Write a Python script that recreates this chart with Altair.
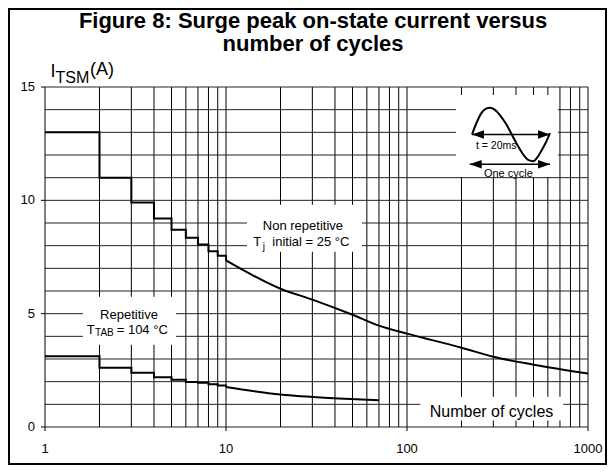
import altair as alt
import pandas as pd

FONT = "Liberation Sans"
W, H = 543, 340

# ---------------- data ----------------
grid_x = [1, 2, 3, 4, 5, 6, 7, 8, 9, 10, 20, 30, 40, 50, 60, 70, 80, 90,
          100, 200, 300, 400, 500, 600, 700, 800, 900, 1000]
grid_y = list(range(0, 16))
x_ticks = [1, 10, 100, 1000]
x_tick_labels = ["1", "10", "100", "1000"]
y_ticks = [0, 5, 10, 15]
y_tick_labels = ["0", "5", "10", "15"]

nr_step_x = [1, 2, 3, 4, 5, 6, 7, 8, 9, 10]
nr_step_y = [13.0, 11.0, 9.9, 9.2, 8.7, 8.35, 8.05, 7.75, 7.55, 7.35]
nr_curve_x = [10, 20, 30, 50, 70, 100, 200, 300, 500, 1000]
nr_curve_y = [7.35, 6.1, 5.62, 4.95, 4.47, 4.12, 3.5, 3.1, 2.75, 2.36]

rep_step_x = [1, 2, 3, 4, 5, 6, 7, 8, 9, 10]
rep_step_y = [3.12, 2.61, 2.39, 2.19, 2.09, 1.99, 1.95, 1.89, 1.83, 1.77]
rep_curve_x = [10, 20, 42, 70]
rep_curve_y = [1.77, 1.43, 1.26, 1.18]

# white boxes behind the labels (data units: x0, x1, y0, y1)
box_x0 = [13.06, 1.62, 118.6, 186.6]
box_x1 = [56.4, 5.30, 731.0, 682.0]
box_y0 = [7.73, 3.63, 0.29, 11.03]
box_y1 = [9.8, 5.75, 1.34, 14.65]

# inset "one cycle" icon (phase in cycles, amplitude)
icon_phase = [0, 0.06, 0.12, 0.18, 0.23, 0.29, 0.36, 0.44, 0.51, 0.58,
              0.65, 0.72, 0.786, 0.84, 0.9, 0.95, 1.0]
icon_amp = [0, 0.45, 0.8, 0.97, 1.0, 0.93, 0.72, 0.38, 0, -0.38,
            -0.72, -0.95, -1.0, -0.85, -0.55, -0.28, 0.05]

# ---------------- scales ----------------
xs = alt.Scale(type="log", domain=[1, 1000], nice=False)
ys = alt.Scale(domain=[0, 15], nice=False)

one = pd.DataFrame({"a": [0]})

border = alt.Chart(one).mark_rect(fillOpacity=0, stroke="black", strokeWidth=2).encode(
    x=alt.value(-36), x2=alt.value(561), y=alt.value(-78), y2=alt.value(377))

vgrid = alt.Chart(pd.DataFrame({"v": grid_x})).mark_rule(color="#000", strokeWidth=1).encode(
    x=alt.X("v:Q", scale=xs, axis=None), y=alt.value(0), y2=alt.value(H))
hgrid = alt.Chart(pd.DataFrame({"v": grid_y})).mark_rule(color="#222", strokeWidth=1).encode(
    y=alt.Y("v:Q", scale=ys, axis=None), x=alt.value(0), x2=alt.value(W))

# axis ticks and labels
xtick = alt.Chart(pd.DataFrame({"v": x_ticks})).mark_rule(color="black", strokeWidth=1).encode(
    x=alt.X("v:Q", scale=xs, axis=None), y=alt.value(H), y2=alt.value(H + 4))
xlab = alt.Chart(pd.DataFrame({"v": x_ticks, "t": x_tick_labels})).mark_text(
    font=FONT, fontSize=13, align="center", baseline="alphabetic", color="black").encode(
    x=alt.X("v:Q", scale=xs, axis=None), y=alt.value(H + 26), text="t:N")
ytick = alt.Chart(pd.DataFrame({"v": y_ticks})).mark_rule(color="black", strokeWidth=1).encode(
    y=alt.Y("v:Q", scale=ys, axis=None), x=alt.value(-4), x2=alt.value(0))
ylab = alt.Chart(pd.DataFrame({"v": y_ticks, "t": y_tick_labels})).mark_text(
    font=FONT, fontSize=13, align="right", baseline="middle", color="black").encode(
    y=alt.Y("v:Q", scale=ys, axis=None), x=alt.value(-10), text="t:N")

boxes = alt.Chart(pd.DataFrame({"x0": box_x0, "x1": box_x1, "y0": box_y0, "y1": box_y1})).mark_rect(
    fill="white").encode(
    x=alt.X("x0:Q", scale=xs, axis=None), x2="x1:Q",
    y=alt.Y("y0:Q", scale=ys, axis=None), y2="y1:Q")


def line(xv, yv, interp):
    return alt.Chart(pd.DataFrame({"x": xv, "y": yv})).mark_line(
        color="black", strokeWidth=2, interpolate=interp).encode(
        x=alt.X("x:Q", scale=xs, axis=None), y=alt.Y("y:Q", scale=ys, axis=None))


curves = [
    line(nr_step_x, nr_step_y, "step-after"),
    line(nr_curve_x, nr_curve_y, "monotone"),
    line(rep_step_x, rep_step_y, "step-after"),
    line(rep_curve_x, rep_curve_y, "monotone"),
]


def annot(text, xv, yv, size, align="left", dx=0, dy=0, weight="normal"):
    return alt.Chart(pd.DataFrame({"x": [xv], "y": [yv], "t": [text]})).mark_text(
        font=FONT, fontSize=size, align=align, baseline="alphabetic", dx=dx, dy=dy,
        color="black", fontWeight=weight).encode(
        x=alt.X("x:Q", scale=xs, axis=None), y=alt.Y("y:Q", scale=ys, axis=None), text="t:N")


texts = [
    annot("Non repetitive", 26.6, 8.67, 13, align="center"),
    annot("T", 14.16, 7.99, 13),
    annot("j", 14.16, 7.99, 10, dx=9.5, dy=4),
    annot("initial = 25 °C", 14.16, 7.99, 13, dx=19),
    annot("Repetitive", 2.91, 4.78, 13, align="center"),
    annot("T", 1.70, 4.12, 13),
    annot("TAB", 1.70, 4.12, 10, dx=8.3, dy=2),
    annot("= 104 °C", 1.70, 4.12, 13, dx=30),
    annot("Number of cycles", 293, 0.44, 16, align="center"),
]


def ptext(text, px, py, size, align="left", weight="normal"):
    return alt.Chart(one).mark_text(
        font=FONT, fontSize=size, align=align, baseline="alphabetic",
        color="black", fontWeight=weight).encode(
        x=alt.value(px), y=alt.value(py), text=alt.value(text))


titles = [
    ptext("Figure 8: Surge peak on-state current versus", 268, -59, 22, "center", "bold"),
    ptext("number of cycles", 268, -36, 22, "center", "bold"),
    ptext("I", 5.5, -10, 18),
    ptext("TSM", 10.5, -4, 16),
    ptext("(A)", 45, -12, 18),
]

main = alt.layer(border, vgrid, hgrid, xtick, ytick, xlab, ylab, boxes,
                 *curves, *texts, *titles)

# ---- inset icon with its own scales ----
ph = alt.Scale(domain=[-5.474, 1.487], nice=False, zero=False)
am = alt.Scale(domain=[-10.955, 1.779], nice=False, zero=False)

wave = alt.Chart(pd.DataFrame({"p": icon_phase, "a": icon_amp})).mark_line(
    color="black", strokeWidth=2, interpolate="monotone").encode(
    x=alt.X("p:Q", scale=ph, axis=None), y=alt.Y("a:Q", scale=am, axis=None))

arrow_p0 = [0.0, -0.03]
arrow_p1 = [1.0, 1.0]
arrow_a = [0.0, -1.116]
shafts = alt.Chart(pd.DataFrame({"p0": arrow_p0, "p1": arrow_p1, "a": arrow_a})).mark_rule(
    color="black", strokeWidth=1.5).encode(
    x=alt.X("p0:Q", scale=ph, axis=None), x2="p1:Q", y=alt.Y("a:Q", scale=am, axis=None))
left_heads = alt.Chart(pd.DataFrame({"p": arrow_p0, "a": arrow_a})).mark_point(
    shape="M0,0L2,-0.7L2,0.7Z", size=144, filled=True, color="black", opacity=1).encode(
    x=alt.X("p:Q", scale=ph, axis=None), y=alt.Y("a:Q", scale=am, axis=None))
right_heads = alt.Chart(pd.DataFrame({"p": arrow_p1, "a": arrow_a})).mark_point(
    shape="M0,0L-2,-0.7L-2,0.7Z", size=144, filled=True, color="black", opacity=1).encode(
    x=alt.X("p:Q", scale=ph, axis=None), y=alt.Y("a:Q", scale=am, axis=None))


def itext(text, p, a, size):
    return alt.Chart(pd.DataFrame({"p": [p], "a": [a], "t": [text]})).mark_text(
        font=FONT, fontSize=size, align="center", baseline="middle", color="black").encode(
        x=alt.X("p:Q", scale=ph, axis=None), y=alt.Y("a:Q", scale=am, axis=None), text="t:N")


inset = alt.layer(wave, shafts, left_heads, right_heads,
                  itext("t = 20ms", 0.31, -0.43, 10.5),
                  itext("One cycle", 0.466, -1.49, 11))

chart = alt.layer(main, inset).resolve_scale(x="independent", y="independent").properties(
    width=W, height=H,
    padding={"left": 37, "top": 79, "right": 19, "bottom": 38},
    autosize=alt.AutoSizeParams(type="none"),
).configure_view(stroke=None)

chart.save("out.html", embed_options={"renderer": "svg", "actions": False})
